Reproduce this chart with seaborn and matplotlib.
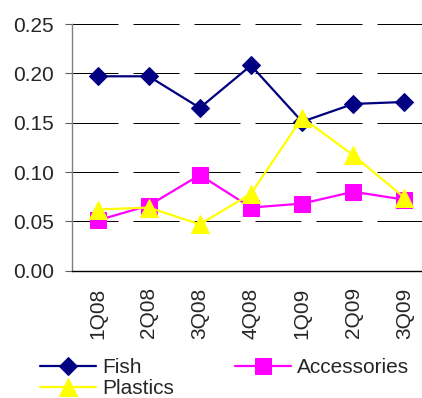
import matplotlib
matplotlib.use("Agg")
import matplotlib.pyplot as plt
import numpy as np
import pandas as pd
import seaborn as sns

quarters = ["1Q08", "2Q08", "3Q08", "4Q08", "1Q09", "2Q09", "3Q09"]
fish = [0.197, 0.197, 0.165, 0.208, 0.151, 0.169, 0.171]
accessories = [0.051, 0.066, 0.097, 0.064, 0.068, 0.080, 0.072]
plastics = [0.062, 0.064, 0.047, 0.078, 0.155, 0.117, 0.074]
y_ticks = [0.00, 0.05, 0.10, 0.15, 0.20, 0.25]

series = {"Fish": fish, "Accessories": accessories, "Plastics": plastics}
df = pd.DataFrame(
    [(q, name, v) for name, vals in series.items() for q, v in zip(quarters, vals)],
    columns=["quarter", "series", "value"],
)

sns.set_theme(style="white")
plt.rcParams["font.family"] = ["Liberation Sans", "DejaVu Sans"]

palette = {"Fish": "#000080", "Accessories": "#FF00FF", "Plastics": "#FFFF00"}
markers = {"Fish": "D", "Accessories": "s", "Plastics": "^"}
msize = {"Fish": 9, "Accessories": 11, "Plastics": 13}

fig = plt.figure(figsize=(4.22, 3.98), dpi=100)
ax = fig.add_axes([72 / 422, 127.3 / 398, 358 / 422, 246.7 / 398])

for name in series:
    sub = df[df["series"] == name]
    sns.lineplot(
        data=sub, x="quarter", y="value", ax=ax, color=palette[name],
        marker=markers[name], markersize=msize[name], markeredgecolor=palette[name],
        linewidth=1.6, sort=False, label=name, zorder=3,
    )

ax.set_xlim(-0.5, 6.5)
ax.set_ylim(0, 0.25)
ax.set_yticks(y_ticks)
ax.set_yticklabels([f"{t:.2f}" for t in y_ticks])
ax.set_xticks(range(len(quarters)))
ax.set_xticklabels(quarters, rotation=90)
ax.set_xticks(np.arange(-0.5, len(quarters), 1.0), minor=True)
ax.tick_params(axis="x", which="major", length=0, pad=12, labelsize=15)
ax.tick_params(axis="x", which="minor", length=5, width=0.8, color="black", direction="out")
ax.tick_params(axis="y", length=5, width=0.8, color="#606060", direction="out", pad=8, labelsize=15, left=True)
ax.set_xlabel("")
ax.set_ylabel("")

ax.grid(axis="y", color="black", linewidth=0.72, linestyle=(0, (46, 15)), zorder=0)
ax.grid(axis="x", visible=False)
for s in ("top", "right"):
    ax.spines[s].set_visible(False)
ax.spines["left"].set_color("#808080")
ax.spines["left"].set_linewidth(1.0)
ax.spines["bottom"].set_color("black")
ax.spines["bottom"].set_linewidth(1.0)
ax.set_axisbelow(True)

handles, labels = ax.get_legend_handles_labels()
order = [labels.index(n) for n in ["Fish", "Plastics", "Accessories"]]
ax.legend(
    [handles[i] for i in order], [labels[i] for i in order],
    ncol=2, loc="upper left", bbox_to_anchor=(40 / 422, 40 / 398),
    bbox_transform=fig.transFigure, frameon=False, fontsize=15,
    handlelength=2.7, handletextpad=0.3, columnspacing=2.9,
    labelspacing=0.1, borderaxespad=0, borderpad=0,
)

fig.savefig("out.png", dpi=100)
